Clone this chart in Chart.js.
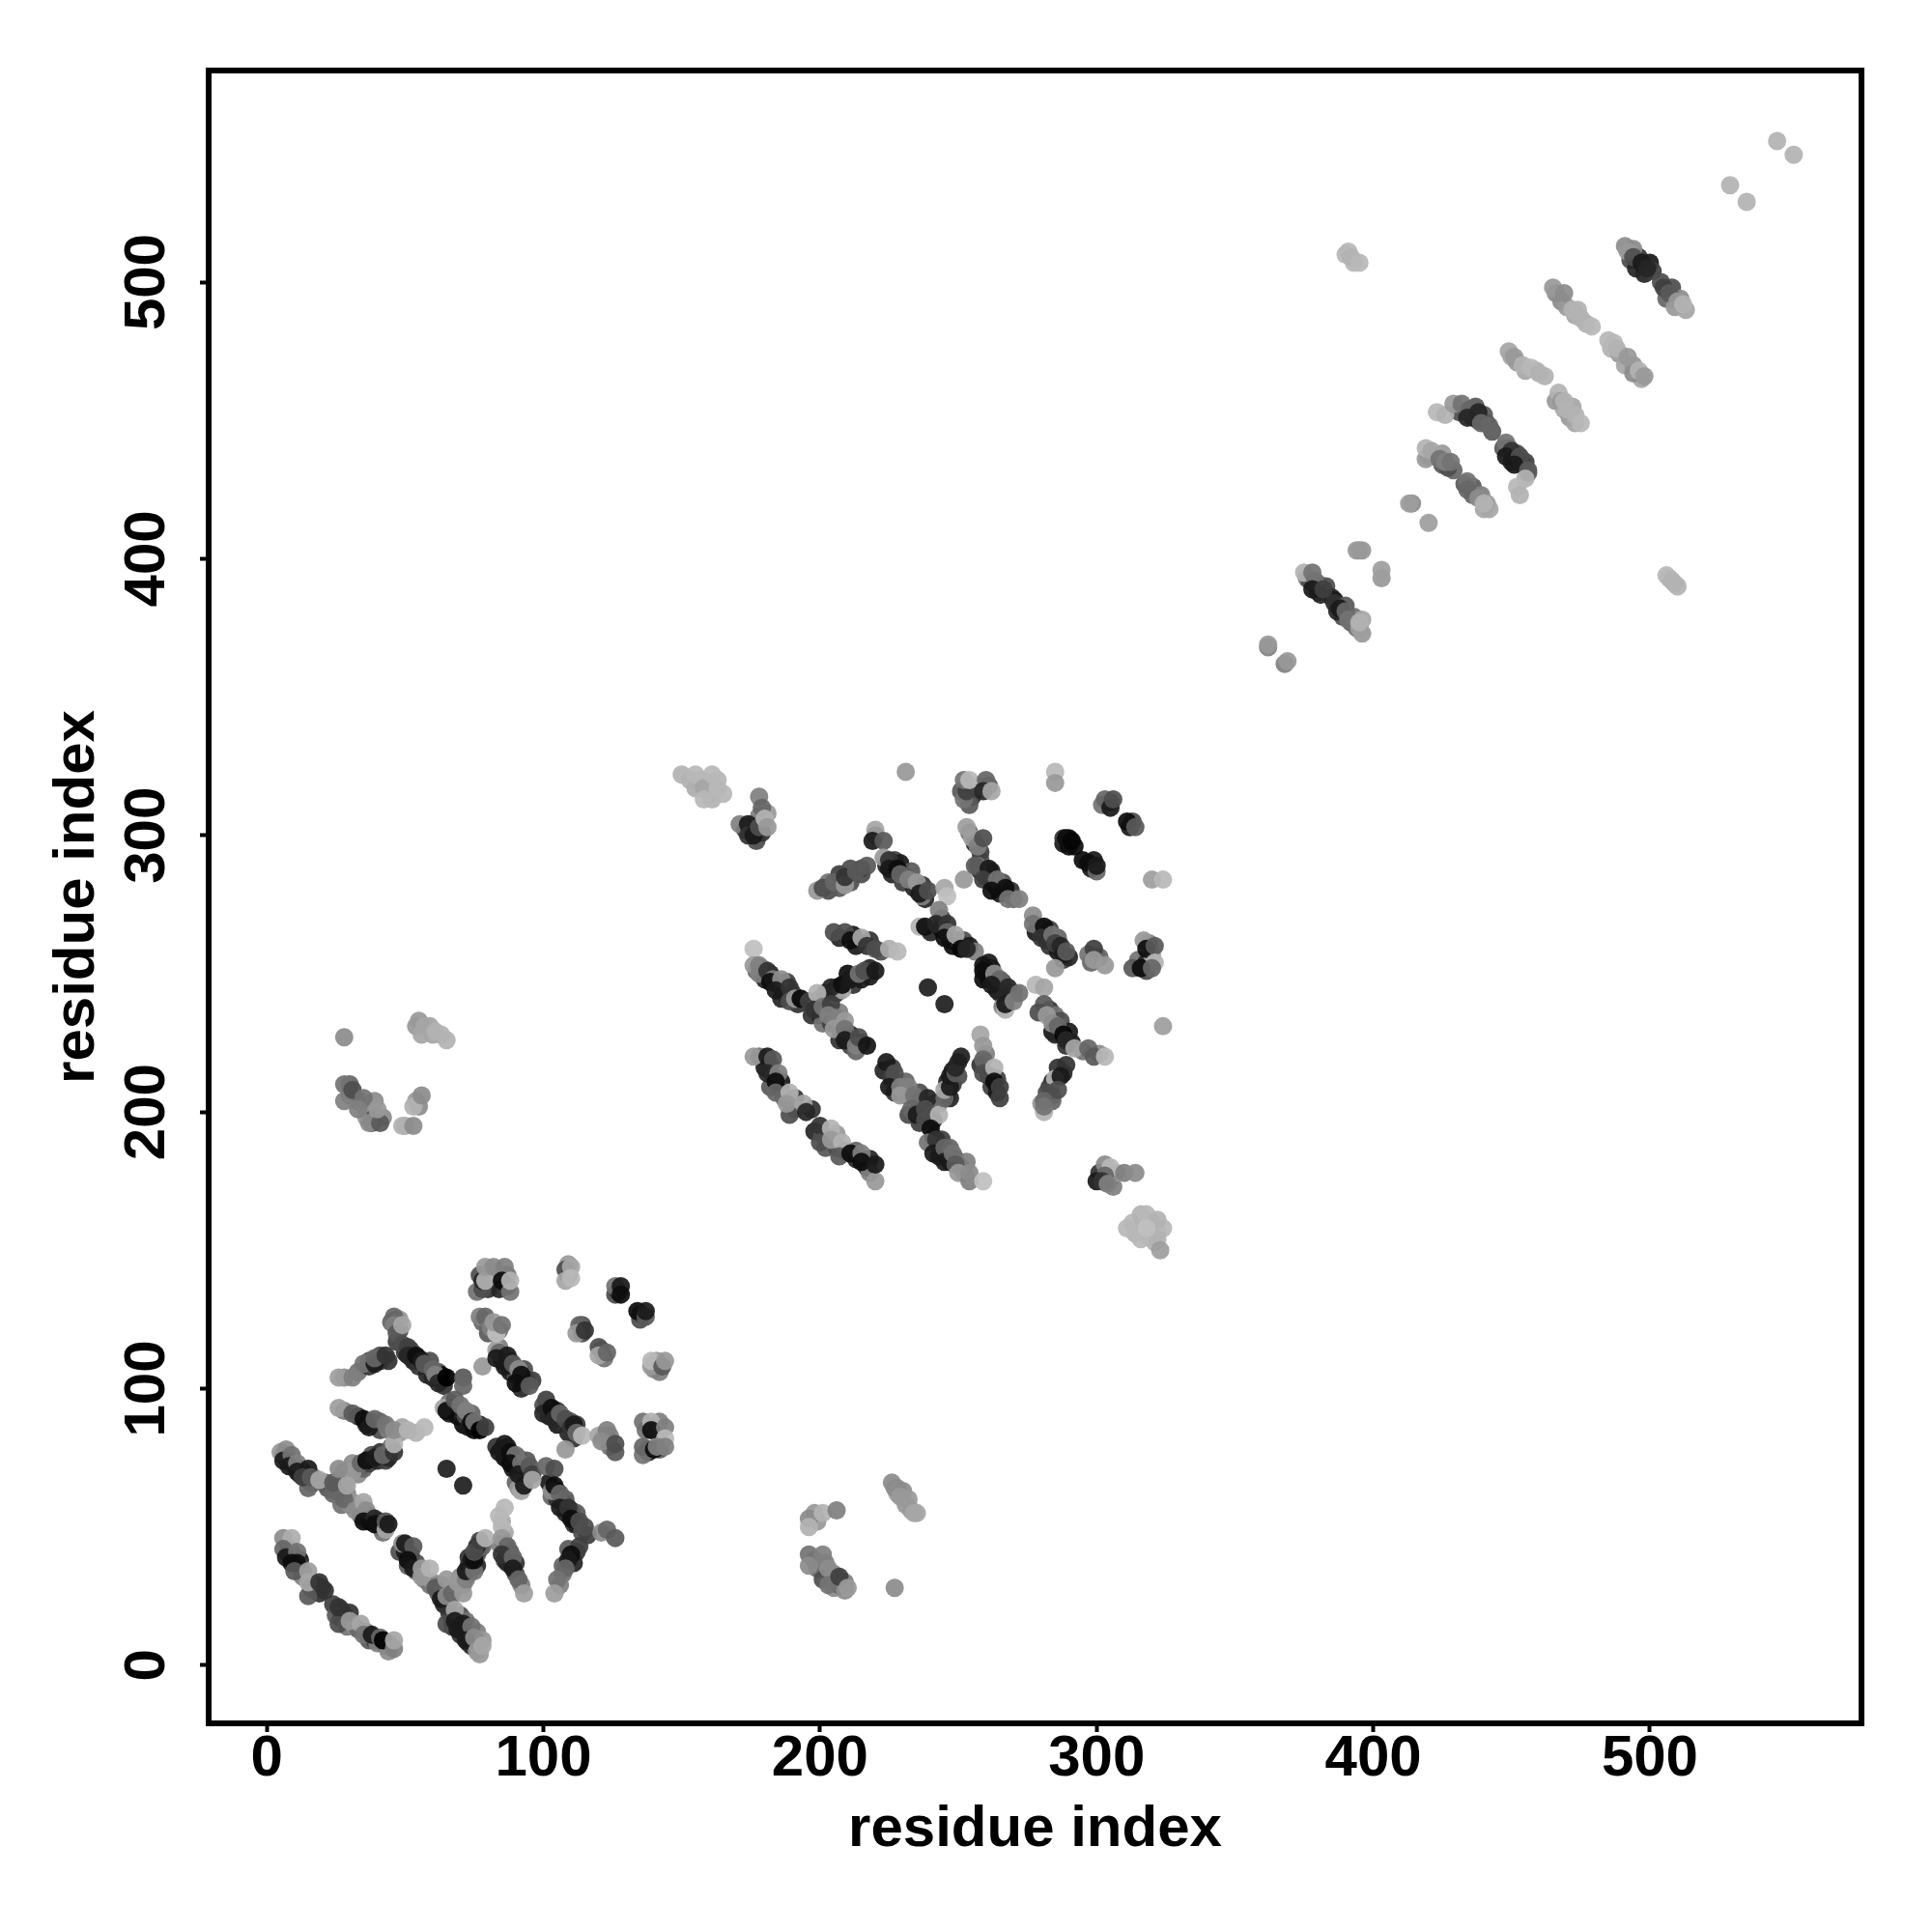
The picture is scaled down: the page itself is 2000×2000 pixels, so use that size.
<!DOCTYPE html>
<html>
<head>
<meta charset="utf-8">
<style>
  html, body { margin: 0; padding: 0; background: #fff; }
  canvas { display: block; }
</style>
<script src="https://cdn.jsdelivr.net/npm/chart.js@4/dist/chart.umd.min.js"></script>
</head>
<body>
<canvas id="contactMap" width="2000" height="2000"></canvas>
<script>
// each contact is [residue x, residue y, distance score], low score = dark
const tickValues = [0, 100, 200, 300, 400, 500];

// contacts that sit underneath the others in the picture
const lowerLayer = [
  [8,42,30],[8,40,10],[10,39,15],[9,41,40],[12,38,10],[12,36,30],[13,34,40],[13,32,50],[16,28,25],[17,27,40],[18,29,20],[20,28,20],[19,26,20],[24,22,25],[27,20,20],[28,18,20],[25,18,35],[27,17,25],[29,14,45],[32,14,60],[33,13,40],[36,12,45],[37,9,35],[39,9,25],[40,8,50],[43,7,45],[44,8,50],[44,5,55],
  [6,76,20],[7,75,10],[8,74,15],[9,73,10],[10,72,20],[11,71,15],[12,71,10],[12,69,15],[13,70,30],[14,68,30],[14,69,10],[15,67,35],[16,66,45],[17,68,60],[17,66,40],
  [21,66,40],[22,64,35],[24,62,40],[26,61,45],[27,58,45],[30,58,55],[29,62,50],[31,59,60],[33,57,55],[34,54,45],[37,54,20],[37,52,10],[41,52,20],[41,50,15],[42,48,45],
  [48,41,30],[50,41,10],[52,40,25],[51,36,35],[54,37,30],[54,34,45],[57,31,50],[59,29,45],[60,30,55],[62,26,40],[63,29,50],[64,27,60],[64,22,15],[66,23,40],[66,19,20],[67,14,20],[67,17,25],[70,18,30],[70,11,20],[71,12,25],[72,16,45],[73,12,30],[74,7,15],[73,8,20],[76,8,50],[76,12,50],[78,9,60],[77,4,60],
  [27,68,50],[28,70,55],[29,67,50],[33,71,45],[33,69,55],[35,72,20],[35,71,40],[37,73,25],[38,76,30],[40,74,15],[41,77,20],[43,74,25],[44,75,15],[45,79,40],
  [70,32,55],[71,29,55],[73,33,35],[73,36,15],[74,36,35],[73,39,20],[76,36,15],[76,40,35],[77,42,30],[78,43,40],[76,43,15],
  [85,52,65],[86,48,65],[84,44,50],[86,44,40],[87,41,35],[86,38,25],[87,37,15],[88,41,35],[90,37,20],[90,33,30],[92,29,50],
  [28,92,50],[33,90,20],[36,87,10],[38,88,20],[41,85,30],[41,88,40],[44,85,50],[48,84,60],[49,86,65],
  [28,104,55],[33,106,45],[37,108,20],[37,110,35],[41,110,20],[41,112,30],[44,110,20],
  [47,117,25],[50,113,20],[52,114,30],[53,110,10],[55,111,15],[55,108,20],[58,108,30],[58,105,15],[59,110,30],[60,104,15],[62,106,35],[63,103,5],[64,101,20],[63,105,5],
  [66,95,45],[66,91,10],[67,93,10],[69,92,10],[69,90,5],[71,90,15],[71,87,5],[72,90,30],[73,86,10],[75,85,5],[76,87,15],[77,87,15],[74,91,40],
  [83,79,20],[85,78,10],[86,75,5],[87,79,15],[89,74,10],[89,71,10],[90,72,10],[91,75,35],[93,70,5],[94,74,35],[94,68,15],[90,66,40],[91,64,60],
  [102,66,10],[103,61,40],[105,60,20],[105,63,10],[107,59,20],[108,55,15],[108,60,35],[110,56,15],[111,51,20],[112,55,35],[112,51,10],[114,48,30],[116,47,25],
  [112,41,20],[111,37,15],[109,42,35],[107,36,40],[107,33,45],[106,29,50],
  [85,112,20],[85,110,10],[88,110,20],[88,106,10],[90,105,30],[93,107,30],[93,103,10],[92,100,15],[94,103,25],[96,103,25],[84,115,50],
  [101,96,25],[102,90,10],[102,93,15],[105,92,20],[105,87,10],[107,88,20],[109,84,15],[110,88,35],[112,87,25],[111,82,20],
  [122,83,50],[124,79,45],[124,83,50],[138,77,15],[137,85,45],[142,88,50],[142,78,35],[138,78,40],[142,84,60],
  [109,141,40],[109,145,60],[126,134,30],[127,135,20],[135,127,15],[135,125,30],[114,120,30],[114,123,30],[121,114,40],[122,111,45],
  [140,107,55],[141,110,60],[142,106,50],
  [80,136,20],[81,140,35],[83,142,60],[87,141,45],[84,136,15],[87,137,20],[77,141,30],[81,143,55],
  [80,123,50],[80,120,35],[84,121,45],[78,124,40],[47,125,35],[45,124,40],[48,121,30],[48,125,60],
  [153,320,70],[157,320,70],[160,319,72],[155,317,68],[160,315,72],[163,320,72],[161,313,70],[165,315,72],
  [313,160,72],[319,155,70],[320,160,72],[322,157,72],[314,156,70],[324,158,72],[317,160,70],[321,153,70],
  [173,302,25],[175,302,15],[177,298,30],[179,301,20],[176,304,40],[178,307,50],[181,308,60],
  [203,280,30],[203,283,45],[207,281,35],[207,286,25],[211,283,30],[211,288,30],[215,286,30],[215,288,25],
  [224,289,15],[226,286,15],[227,291,25],[229,290,10],[231,285,10],[233,287,35],[230,283,25],[234,281,15],[237,282,20],[238,277,15],
  [258,287,20],[258,291,35],[260,285,10],[262,287,15],[263,282,10],[265,279,10],[266,283,30],[269,280,20],[270,277,40],
  [251,316,35],[255,314,20],[254,311,35],[257,318,60],[261,318,35],[254,301,45],[256,297,15],[258,294,25],
  [290,299,5],[288,297,10],[292,296,5],[295,291,5],[299,291,10],[298,288,10],[302,311,45],[305,312,25],[312,303,10],[313,305,30],
  [207,263,15],[212,264,10],[213,260,10],[218,262,20],[222,258,30],
  [177,251,40],[180,248,15],[179,252,40],[182,250,15],[184,247,10],[185,246,10],[187,243,10],[188,247,25],[190,243,25],[186,241,15],[192,239,20],
  [200,241,25],[202,243,15],[206,245,10],[206,243,15],[210,250,5],[212,246,20],[215,248,10],[218,249,10],[218,252,15],
  [197,235,20],[200,235,15],[202,237,20],[201,232,45],[204,232,25],[207,230,25],[207,226,20],[211,228,15],[211,224,25],[215,225,15],[213,222,40],[207,236,50],
  [178,220,45],[180,216,10],[182,217,15],[183,213,30],[182,209,35],[186,211,10],[186,208,25],[187,205,40],[191,205,20],[191,201,50],[197,201,20],[198,193,15],[201,192,35],[202,187,35],[206,187,30],[206,192,60],[209,186,35],[213,183,15],[213,186,40],[217,180,15],[218,183,15],[218,178,50],
  [223,215,15],[226,216,25],[226,212,25],[227,207,20],[231,211,40],[231,206,45],[236,203,15],[236,207,30],[232,199,30],[236,196,25],[240,201,20],[241,197,15],[241,203,25],
  [243,203,45],[246,206,30],[247,205,15],[246,211,15],[248,210,25],[248,215,10],[250,218,15],[250,213,30],
  [260,221,50],[258,217,20],[261,213,15],[262,209,25],[264,207,10],[264,212,25],
  [241,191,15],[243,188,10],[243,184,10],[244,190,25],[246,186,15],[247,182,10],[247,187,40],[249,183,25],[251,180,30],[252,178,40],[253,182,50],
  [240,265,15],[244,270,25],[244,266,5],[247,262,10],[248,260,5],[250,262,15],[252,262,30],[254,260,10],[256,258,50],
  [261,254,10],[261,248,5],[262,252,10],[264,246,30],[264,244,10],[266,247,30],[267,241,10],[268,242,25],[270,243,40],[265,243,15],[266,238,50],
  [278,265,10],[279,267,30],[282,262,10],[283,260,20],[283,266,25],[286,258,10],[286,263,40],[288,255,25],[290,256,15],
  [298,254,40],[300,256,50],[301,256,40],[315,255,45],[318,254,15],[319,261,50],[320,257,65],[318,251,30],
  [283,237,20],[284,229,10],[285,235,45],[285,228,15],[287,228,15],[287,233,30],[289,224,20],[290,229,10],[291,225,10],
  [295,222,45],[301,221,55],
  [288,214,15],[284,211,15],[284,206,40],[283,209,25],[280,203,60],[286,216,20],[284,204,40],
  [305,176,15],[301,178,20],[306,173,50],[307,178,60],[303,175,15],
  [376,393,50],[377,392,30],[380,391,30],[381,387,15],[383,390,30],[380,388,15],[385,386,15],[386,385,10],[386,384,20],
  [389,379,30],[392,377,30],[393,379,45],[387,381,15],[390,383,35],[394,375,45],[396,378,65],[396,373,60],
  [420,437,60],[422,437,55],[425,434,35],[429,432,40],[425,438,60],[419,436,60],[427,433,30],
  [436,426,35],[436,423,40],[439,423,50],[441,420,60],[442,418,65],[433,427,35],
  [436,451,20],[437,455,35],[431,453,30],[438,450,20],[441,449,15],[440,452,35],[443,446,35],
  [449,440,30],[447,440,35],[452,436,15],[452,438,30],[450,435,15],[454,434,20],[455,435,25],[456,431,35],
  [466,457,60],[469,454,65],[471,451,60],[473,449,65],[472,455,65],
  [450,473,65],[452,471,60],[455,468,65],[459,468,70],[462,466,70],
  [466,496,55],[468,493,55],[470,491,60],[473,488,65],[477,485,70],[474,490,70],
  [486,476,70],[489,474,60],[491,470,65],[494,470,60],[497,465,65],[494,467,55],[487,478,72],
  [493,508,30],[495,505,15],[496,509,20],[498,503,15],[500,507,10],[501,504,25],[504,500,30],[506,494,40],[508,498,30],[509,491,60],[511,494,55],[513,490,65],[494,512,55],[491,513,55],
  [30,206,45],[30,210,40],[33,204,45],[36,201,50],[36,198,60],[39,198,30],[39,204,55],[42,198,55],[38,196,35],[50,195,65],[55,202,55],[54,204,60],
  [54,231,60],[56,228,65],[59,231,65],[63,228,70],[60,228,65],
  [198,55,60],[199,52,60],[198,38,50],[199,35,40],[202,37,50],[201,31,30],[205,33,50],[205,28,55],[207,29,35],[209,30,50],[209,27,55],
  [226,66,55],[228,64,55],[228,62,65],[230,63,55],[232,60,60],[233,56,60],[235,55,65],
  [391,511,72],[393,507,72],[507,393,70],[509,391,70]
];

const firstDomain = [
  [6,46,55],[9,46,68],[6,42,40],[7,39,10],[11,41,45],[9,37,5],[11,37,5],[10,34,35],[15,34,62],[15,25,35],[15,30,65],
  [19,30,20],[21,27,20],[26,15,30],[26,21,20],[30,19,20],[30,16,60],[34,15,65],[35,11,45],[38,11,10],[41,10,40],[42,9,0],[46,6,50],[46,9,65],
  [5,77,60],[7,78,55],[6,74,10],[9,76,45],[8,72,10],[11,73,50],[11,70,10],[15,71,10],[15,64,40],[13,68,25],[16,68,35],[19,67,65],
  [25,63,40],[24,66,35],[28,60,40],[31,73,55],[31,70,60],[34,73,40],[36,74,5],[39,75,10],[42,76,40],[46,77,20],[46,80,70],[26,71,55],[29,65,65],
  [32,56,55],[35,59,65],[36,56,55],[35,52,5],[39,53,15],[39,51,5],[43,49,65],[43,52,35],[44,51,10],
  [49,44,55],[50,44,10],[53,43,35],[51,38,5],[53,35,10],[56,32,60],[56,35,60],[59,35,70],[61,28,35],[63,24,10],[65,31,60],[65,25,55],[67,26,40],[71,26,60],
  [69,30,60],[72,31,50],[72,34,10],[75,34,45],[74,38,10],[75,38,5],[75,41,30],[77,45,25],[79,46,70],
  [65,15,30],[68,20,65],[68,16,10],[71,15,10],[69,13,10],[74,14,45],[72,9,10],[75,10,55],[76,5,60],[78,7,65],
  [86,57,72],[84,54,72],[85,50,72],[85,46,60],[87,43,40],[85,40,20],[89,39,40],[89,35,10],[91,31,40],[93,26,62],
  [26,93,62],[31,91,35],[35,89,5],[37,86,10],[39,89,40],[43,87,45],[46,85,55],[51,85,70],[54,84,70],[57,86,72],
  [26,104,62],[31,104,50],[35,109,45],[39,109,10],[39,111,40],[43,112,20],
  [46,126,40],[46,123,50],[47,120,35],[49,123,65],
  [49,116,30],[51,115,25],[51,112,15],[54,112,5],[56,110,10],[57,109,35],[60,107,40],[61,105,50],[62,102,15],[65,104,0],[71,104,35],[71,101,40],
  [64,93,65],[65,92,5],[68,96,35],[70,94,45],[72,92,50],[74,88,5],[75,88,45],[77,85,0],[79,86,25],
  [86,80,10],[84,77,10],[88,77,5],[90,76,45],[88,73,5],[92,73,45],[91,69,10],[95,72,35],[92,63,65],[93,65,10],[96,69,25],[96,67,65],[101,72,40],[104,71,30],
  [103,63,55],[104,65,5],[106,62,40],[106,57,10],[109,57,20],[110,53,5],[113,52,30],[115,50,30],[121,48,55],[123,49,40],[126,46,35],
  [113,43,25],[110,40,5],[109,38,10],[108,35,40],[105,31,45],[104,26,62],
  [78,108,60],[83,114,65],[84,113,40],[83,111,10],[87,112,10],[86,108,10],[89,109,35],[91,107,55],[90,102,5],[92,105,5],[95,101,35],
  [100,94,30],[100,91,15],[103,93,5],[104,89,15],[106,91,40],[108,89,30],[110,86,20],[111,87,10],[112,84,40],[114,83,72],[108,78,60],
  [120,83,65],[123,85,50],[121,81,55],[126,77,35],[126,80,30],
  [136,88,45],[139,88,70],[139,85,5],[144,86,50],[144,82,72],[136,76,45],[136,79,40],[140,78,5],[141,79,50],[144,79,50],
  [139,108,60],[139,110,72],[143,108,35],[144,110,60],
  [126,137,45],[128,137,10],[128,134,5],[134,128,5],[137,126,35],[137,128,10],
  [113,123,40],[112,120,60],[115,121,20],[120,115,30],[120,112,65],[123,113,40],
  [108,143,30],[110,144,65],[108,139,65],[110,140,72],
  [76,135,45],[78,136,30],[78,139,15],[79,139,70],[79,144,60],[82,144,55],[86,144,50],[85,139,5],[88,135,45],[88,139,70],
  [77,126,50],[79,126,40],[81,122,50],[83,120,75],[82,124,60],[85,123,45],
  [65,71,12],[71,65,12]
];

const secondDomain = [
  [171,304,50],[178,314,50],[179,310,40],[174,304,10],[174,300,20],[176,300,10],[178,303,30],[180,306,70],[181,303,60],
  [199,280,60],[201,281,30],[205,283,40],[209,282,60],[209,285,20],[213,287,35],[217,289,35],
  [220,302,65],[220,300,60],[219,298,10],[223,298,35],
  [223,292,60],[225,291,20],[225,288,10],[228,288,5],[229,286,40],[232,284,50],[235,283,60],[237,278,50],[236,279,10],[239,280,30],
  [245,281,65],[246,278,75],[252,284,60],
  [257,289,45],[256,289,35],[261,288,10],[259,284,25],[264,284,45],[262,280,5],[267,281,5],[268,277,45],[272,277,50],
  [252,313,45],[253,316,25],[252,320,45],[254,320,72],[260,320,40],[259,316,15],[262,316,65],
  [253,303,62],[255,299,62],[257,296,50],[259,299,30],
  [285,323,72],[285,319,60],
  [303,313,40],[305,310,10],[306,313,30],[311,305,5],[314,303,35],
  [288,299,20],[290,296,5],[289,299,5],[291,298,2],
  [297,290,5],[300,287,40],[300,289,10],
  [320,284,62],[324,284,72],[231,323,60],
  [205,265,30],[209,265,30],[211,262,5],[215,263,65],[217,260,20],[220,259,30],[225,259,68],[228,258,72],
  [176,259,75],[176,253,60],[178,253,50],[178,250,50],[181,251,20],[183,248,50],[182,247,5],[186,248,55],[184,244,10],[189,245,20],[189,240,30],[191,241,60],[193,241,2],[196,240,25],
  [208,244,65],[204,245,15],[208,246,5],[211,248,10],[214,250,45],[216,251,30],[220,251,10],[199,243,70],
  [198,237,20],[201,238,45],[204,239,25],[203,235,50],[206,234,50],[209,233,60],[205,230,60],[209,230,45],[209,226,10],[213,224,50],[214,227,30],[217,224,8],
  [176,220,60],[181,220,10],[183,219,35],[181,214,15],[185,214,50],[184,211,5],[184,207,40],[189,207,70],[189,199,30],[188,203,60],[194,203,65],[195,200,15],
  [200,195,20],[200,189,30],[204,194,70],[204,190,60],[208,189,70],[207,184,35],[211,185,5],[215,185,50],[215,182,5],[220,175,60],[220,181,10],
  [224,218,10],[227,214,30],[225,209,10],[229,209,50],[232,209,50],[229,206,60],[234,206,45],[233,201,40],[239,205,15],[235,199,10],[238,201,30],[238,197,30],[243,199,70],
  [245,205,40],[245,208,65],[247,209,10],[247,213,10],[249,214,35],[249,216,15],[251,220,12],
  [258,228,65],[259,224,60],[259,219,40],[259,214,30],[263,216,70],[263,211,5],[265,209,25],[265,205,25],
  [240,194,5],[239,189,45],[242,190,20],[241,185,10],[245,187,40],[245,182,10],[248,185,45],[249,181,35],[250,178,60],[254,175,50],[254,178,55],[259,175,75],
  [243,273,50],[236,267,70],[238,267,5],[242,268,15],[246,268,20],[246,265,40],[245,263,5],[249,264,65],[251,259,2],[253,259,15],
  [259,253,8],[259,251,5],[259,248,5],[263,250,55],[265,248,40],[262,246,10],[268,245,15],[267,237,70],[267,239,10],[270,240,50],[272,243,45],[278,246,72],[281,245,65],
  [239,245,12],[245,239,12],
  [277,271,55],[277,268,45],[281,267,5],[280,263,20],[284,264,45],[285,261,25],[287,260,15],[288,257,10],[289,258,35],[285,252,60],
  [297,257,45],[299,259,25],[299,255,60],[303,253,60],
  [317,262,60],[318,259,5],[321,260,35],[321,254,70],[313,252,35],[316,252,5],[320,252,40],
  [281,239,35],[279,236,30],[282,235,60],[284,232,55],[286,231,40],[288,228,2],[289,226,15],[292,223,65],[297,223,40],[299,220,35],[303,220,72],
  [285,212,70],[289,217,20],[287,213,10],[286,208,30],[282,207,30],[281,200,70],[281,204,40],[281,202,45],
  [324,231,62],
  [303,181,55],[305,180,72],[303,177,40],[300,175,10],[302,175,20],[304,174,50],[310,178,50],[314,178,55],
  [311,158,72],[316,163,70],[318,163,72],[322,161,70],[316,154,72],[322,154,70],[323,150,62],[318,158,75],
  [150,322,70],[155,322,72],[158,317,65],[161,322,72],[163,317,72],[158,313,72]
];

const crossContacts = [
  [28,227,55],[28,210,45],[28,204,50],[31,208,30],[35,205,45],[33,201,50],[37,196,55],[41,196,35],[40,201,60],[49,195,70],[53,195,55],[53,202,70],[56,206,55],
  [55,233,60],[57,231,65],[61,229,70],[65,226,70],
  [196,53,55],[196,50,70],[201,55,70],[206,56,50],[196,40,45],[196,36,55],[201,40,50],[203,35,55],[203,29,45],[207,32,25],[210,28,60],
  [227,28,55],[227,64,55],[229,61,60],[231,58,60],[234,55,65]
];

const thirdDomain = [
  [362,368,50],[362,369,60],[368,362,50],[369,363,60],
  [375,395,70],[378,395,45],[379,392,45],[378,389,10],[382,389,25],
  [388,382,10],[390,381,40],[391,378,45],[395,375,62],[395,377,70],
  [394,403,60],[395,403,60],[396,403,60],[403,393,60],[403,396,62],
  [414,420,55],[413,420,62],[420,413,62],
  [419,440,70],[421,439,65],[424,436,45],[426,435,50],[428,435,45],
  [434,428,45],[434,425,40],[438,422,55],[440,418,65],[440,420,70],
  [423,453,72],[426,452,70],[429,456,60],[432,456,45],[435,454,40],[434,451,15],[438,453,15],[439,449,40],[442,448,40],
  [448,442,45],[450,439,20],[448,437,10],[453,437,30],[451,434,10],[456,432,35],
  [455,429,70],[452,426,72],[453,423,70],
  [467,460,70],[468,457,60],[469,457,70],[470,454,70],[473,452,70],[475,449,72],
  [506,394,72],[508,392,70],[510,390,70],
  [449,475,65],[451,473,60],[454,470,70],[457,469,72],[460,467,70],
  [465,498,60],[469,496,55],[472,490,70],[475,487,70],[479,484,72],
  [485,479,72],[488,476,70],[492,473,60],[496,468,70],[498,466,60],
  [492,511,60],[494,509,30],[497,507,10],[499,505,15],[505,498,25],[507,496,35],[510,493,60],[512,492,70],
  [390,510,72],[392,509,70],[395,507,72],
  [529,535,70],[535,529,70],[546,551,70],[552,546,70]
];

const contacts = [...lowerLayer, ...crossContacts, ...firstDomain, ...secondDomain, ...thirdDomain];

function scoreColor(score) {
  const g = Math.round(score / 100 * 255);
  return 'rgba(' + g + ',' + g + ',' + g + ',0.93)';
}

const frame = {
  id: 'frame',
  afterDatasetsDraw(chart) {
    const a = chart.chartArea;
    const c = chart.ctx;
    c.save();
    c.strokeStyle = '#000';
    c.lineWidth = 6;
    c.strokeRect(a.left, a.top, a.right - a.left, a.bottom - a.top);
    c.restore();
  }
};

function axis(size, titlePad) {
  return {
    type: 'linear',
    min: -21,
    max: 576.5,
    afterBuildTicks(scale) { scale.ticks = tickValues.map(v => ({ value: v })); },
    afterFit(scale) { if (scale.isHorizontal()) scale.height = size; else scale.width = size; },
    border: { display: false },
    grid: { drawOnChartArea: false, drawTicks: true, tickLength: 9, tickWidth: 4, tickColor: '#000' },
    title: {
      display: true,
      text: 'residue index',
      color: '#000',
      font: { family: 'Liberation Sans', size: 60, weight: 'bold' },
      padding: titlePad
    }
  };
}

const xAxis = axis(216, { top: 0, bottom: 70 });
xAxis.ticks = {
  color: '#000', padding: -8, maxRotation: 0, minRotation: 0, autoSkip: false,
  font: { family: 'Liberation Sans', size: 60, weight: 'bold' }
};
const yAxis = axis(216, { top: 44, bottom: 0 });
yAxis.ticks = {
  color: '#000', padding: 3, minRotation: 90, maxRotation: 90, crossAlign: 'center', autoSkip: false,
  font: { family: 'Liberation Sans', size: 60, weight: 'bold' }
};

new Chart(document.getElementById('contactMap'), {
  type: 'scatter',
  data: {
    datasets: [{
      data: contacts.map(p => ({ x: p[0], y: p[1] })),
      backgroundColor: contacts.map(p => scoreColor(p[2])),
      borderWidth: 0,
      pointRadius: 9.5,
      pointHoverRadius: 9.5
    }]
  },
  options: {
    responsive: false,
    animation: false,
    layout: { padding: { top: 73, right: 73 } },
    plugins: { legend: { display: false }, tooltip: { enabled: false } },
    scales: { x: xAxis, y: yAxis }
  },
  plugins: [frame]
});
</script>
</body>
</html>
